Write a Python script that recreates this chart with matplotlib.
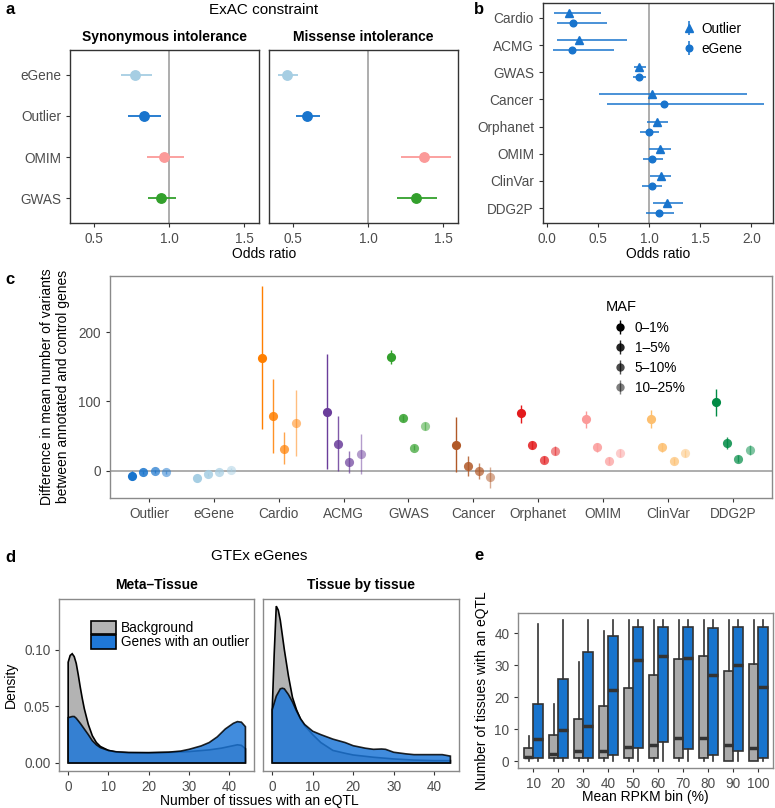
import numpy as np
import matplotlib
matplotlib.use("Agg")
import matplotlib.pyplot as plt
from matplotlib.patches import Patch

plt.rcParams['font.family'] = ['Liberation Sans', 'DejaVu Sans']

W, H = 775, 808
fig = plt.figure(figsize=(W / 100, H / 100), dpi=100)

def axpx(x0, y0, x1, y1):
    return fig.add_axes([x0 / W, 1 - y1 / H, (x1 - x0) / W, (y1 - y0) / H])

def tpx(x, y, s, **kw):
    fig.text(x / W, 1 - y / H, s, **kw)

TICKC = '#4d4d4d'
TS = 9.8

def style(ax, edge='#333333'):
    for sp in ax.spines.values():
        sp.set_color(edge)
        sp.set_linewidth(1.0)
    ax.tick_params(length=3, width=0.8, color='#333333', labelcolor=TICKC, labelsize=TS)

# ---------------- Panel a data ----------------
a_cats = ['eGene', 'Outlier', 'OMIM', 'GWAS']
a_colors = ['#a6cee3', '#1874CD', '#fb9a99', '#33a02c']
a_syn_or = [0.773, 0.833, 0.969, 0.949]
a_syn_lo = [0.678, 0.729, 0.851, 0.858]
a_syn_hi = [0.885, 0.949, 1.100, 1.049]
a_mis_or = [0.460, 0.593, 1.375, 1.320]
a_mis_lo = [0.400, 0.517, 1.220, 1.193]
a_mis_hi = [0.533, 0.677, 1.553, 1.460]
a_facets = ['Synonymous intolerance', 'Missense intolerance']

# ---------------- Panel b data ----------------
b_cats = ['Cardio', 'ACMG', 'GWAS', 'Cancer', 'Orphanet', 'OMIM', 'ClinVar', 'DDG2P']
b_out_or = [0.218, 0.313, 0.900, 1.033, 1.076, 1.109, 1.115, 1.174]
b_out_lo = [0.070, 0.098, 0.848, 0.515, 0.984, 1.000, 1.010, 1.043]
b_out_hi = [0.530, 0.783, 0.972, 1.957, 1.180, 1.213, 1.216, 1.330]
b_eg_or = [0.257, 0.245, 0.903, 1.141, 0.998, 1.033, 1.027, 1.092]
b_eg_lo = [0.098, 0.065, 0.845, 0.587, 0.913, 0.945, 0.935, 0.972]
b_eg_hi = [0.587, 0.659, 0.970, 2.126, 1.092, 1.135, 1.125, 1.239]

# ---------------- Panel c data ----------------
c_cats = ['Outlier', 'eGene', 'Cardio', 'ACMG', 'GWAS', 'Cancer', 'Orphanet', 'OMIM', 'ClinVar', 'DDG2P']
c_colors = ['#1874CD', '#a6cee3', '#ff7f00', '#6a3d9a', '#33a02c', '#b15928',
            '#e31a1c', '#fb9a99', '#fdbf6f', '#008B45']
c_maf = ['0–1%', '1–5%', '5–10%', '10–25%']
c_alpha = [1.0, 0.85, 0.7, 0.5]
c_mean = [[-7, -2.4, -1, -2.4],
          [-11, -5.2, -1.9, 1.5],
          [162.6, 78.5, 31.8, 69.3],
          [85.2, 39, 12.5, 23.6],
          [164.5, 76.5, 33.2, 64.5],
          [37.1, 6.8, -0.4, -9.6],
          [82.8, 37.1, 15.9, 28.9],
          [74.6, 33.8, 14.4, 25.5],
          [74.6, 33.8, 14.0, 25.0],
          [98.7, 40.4, 17.3, 29.9]]
c_lo = [[-13, -5, -3.5, -5],
        [-14, -7.5, -4, -0.5],
        [59.7, 25, 9.2, 21.7],
        [2.4, -1, -3.8, -4.8],
        [154.4, 72, 29.5, 59],
        [-1.4, -7.6, -11.5, -25.4],
        [69.3, 31, 11, 23],
        [62, 27, 9.5, 20],
        [62, 27.5, 9.5, 20],
        [79.4, 32, 12, 23]]
c_hi = [[-1, 0, 1.5, 0],
        [-8, -3, 0, 3.5],
        [266.5, 132.3, 55.4, 116.5],
        [168, 79.4, 28.9, 53],
        [174, 81, 37, 70],
        [77, 21.2, 10.6, 4.9],
        [94.8, 43, 21, 35],
        [86.6, 40, 19.5, 31],
        [87, 40, 18.5, 30.5],
        [117.9, 49, 22.5, 37]]

# ---------------- Panel d data ----------------
d_facets = ['Meta–Tissue', 'Tissue by tissue']
meta_bg_x = [0, 0.5, 1, 1.5, 2, 2.5, 3, 3.5, 4, 5, 6, 7, 8, 10, 12, 15, 20, 25, 30, 35, 38, 40, 42, 43, 44]
meta_bg_y = [0.089, 0.095, 0.0965, 0.094, 0.088, 0.078, 0.067, 0.057, 0.048, 0.034, 0.024, 0.018, 0.0145,
             0.011, 0.0095, 0.009, 0.009, 0.0092, 0.010, 0.0115, 0.013, 0.0145, 0.016, 0.0155, 0.0125]
meta_out_x = [0, 0.5, 1, 1.5, 2, 3, 4, 5, 6, 7, 8, 10, 12, 15, 20, 25, 28, 30, 33, 35, 37, 39, 41, 42, 43, 44]
meta_out_y = [0.040, 0.0405, 0.041, 0.041, 0.0395, 0.035, 0.030, 0.025, 0.0196, 0.016, 0.0135, 0.011,
              0.0098, 0.0092, 0.009, 0.0095, 0.0105, 0.012, 0.015, 0.018, 0.023, 0.030, 0.035, 0.0365,
              0.036, 0.032]
tis_bg_x = [0, 0.5, 1, 1.5, 2, 3, 4, 5, 6, 7, 8, 10, 12, 15, 18, 20, 25, 30, 35, 40, 44]
tis_bg_y = [0.047, 0.097, 0.1386, 0.135, 0.126, 0.100, 0.077, 0.058, 0.047, 0.0386, 0.033, 0.025, 0.018,
            0.011, 0.0085, 0.007, 0.005, 0.0035, 0.0025, 0.002, 0.002]
tis_out_x = [0, 1, 2, 2.5, 3, 4, 5, 6, 7, 8, 10, 12, 15, 18, 20, 23, 25, 27, 28, 30, 33, 35, 40, 42, 44]
tis_out_y = [0.047, 0.059, 0.0655, 0.066, 0.0655, 0.0605, 0.054, 0.046, 0.039, 0.034, 0.028, 0.025, 0.021,
             0.018, 0.0152, 0.013, 0.012, 0.0123, 0.012, 0.0094, 0.008, 0.0073, 0.0073, 0.0073, 0.006]

# ---------------- Panel e data ----------------
e_bins = ['10', '20', '30', '40', '50', '60', '70', '80', '90', '100']
e_bg_lo = [0, 0, 0, 0, 0, 0, 0, 0, 0, 0]
e_bg_q1 = [1, 1, 1, 1, 1, 1, 1, 1, 0, 0]
e_bg_med = [1.45, 2.2, 3.1, 3.1, 4.4, 5.1, 7.3, 7.2, 5.1, 4.1]
e_bg_q3 = [4.2, 8.1, 13.2, 17.1, 22.9, 26.9, 32, 33, 28.1, 30.5]
e_bg_hi = [8, 17.9, 30.9, 40.8, 44, 44, 44, 44, 44, 44]
e_out_lo = [0, 0, 0, 0, 0, 0, 0, 0, 0, 0]
e_out_q1 = [1, 1, 1, 2, 4.1, 6, 3.7, 2, 3.1, 1]
e_out_med = [7.1, 9.7, 11.1, 22.2, 31.6, 33, 32.1, 27, 30, 23.1]
e_out_q3 = [18, 25.7, 34, 39.1, 42, 42, 42, 41.5, 42, 42]
e_out_hi = [42.9, 44, 44, 44, 44, 44, 44, 44, 44, 44]

BLUE = '#1874CD'

# ================= Panel a =================
a_boxes = [(70, 50, 259, 223), (269, 50, 458, 223)]
a_data = [(a_syn_or, a_syn_lo, a_syn_hi), (a_mis_or, a_mis_lo, a_mis_hi)]
ypos_a = np.arange(len(a_cats))[::-1] + 1
for k, (box, (orv, lo, hi)) in enumerate(zip(a_boxes, a_data)):
    ax = axpx(*box)
    style(ax)
    ax.axvline(1.0, color='#a0a0a0', lw=1.2, zorder=1)
    for i, c in enumerate(a_cats):
        ax.errorbar(orv[i], ypos_a[i], xerr=[[orv[i] - lo[i]], [hi[i] - orv[i]]], fmt='o',
                    color=a_colors[i], ms=6.8, elinewidth=1.3, capsize=0, zorder=3)
    ax.set_xlim(0.34, 1.6)
    ax.set_ylim(0.4, 4.6)
    ax.set_xticks([0.5, 1.0, 1.5])
    ax.set_xticklabels(['0.5', '1.0', '1.5'])
    ax.set_yticks(ypos_a)
    if k == 0:
        ax.set_yticklabels(a_cats)
    else:
        ax.set_yticklabels([])
        ax.tick_params(axis='y', length=0)
    tpx((box[0] + box[2]) / 2, 37, a_facets[k], ha='center', va='center', fontsize=10, fontweight='bold')
tpx(264, 10, 'ExAC constraint', ha='center', va='center', fontsize=11)
tpx(264, 254, 'Odds ratio', ha='center', va='center', fontsize=10)
tpx(5, 10, 'a', ha='left', va='center', fontsize=12, fontweight='bold')

# ================= Panel b =================
ax = axpx(543, 3, 773, 223)
style(ax)
ax.axvline(1.0, color='#a0a0a0', lw=1.2, zorder=1)
yb = np.arange(len(b_cats))[::-1] + 1
off = 0.185
ax.errorbar(b_out_or, yb + off,
            xerr=[np.array(b_out_or) - np.array(b_out_lo), np.array(b_out_hi) - np.array(b_out_or)],
            fmt='^', color=BLUE, ms=5.5, elinewidth=1.1, capsize=0, zorder=3)
ax.errorbar(b_eg_or, yb - off,
            xerr=[np.array(b_eg_or) - np.array(b_eg_lo), np.array(b_eg_hi) - np.array(b_eg_or)],
            fmt='o', color=BLUE, ms=4.8, elinewidth=1.1, capsize=0, zorder=3)
lh1 = ax.errorbar([np.nan], [np.nan], yerr=[1], fmt='^', color=BLUE, ms=5.5, elinewidth=1.1, capsize=0)
lh2 = ax.errorbar([np.nan], [np.nan], yerr=[1], fmt='o', color=BLUE, ms=4.8, elinewidth=1.1, capsize=0)
ax.set_xlim(-0.036, 2.21)
ax.set_ylim(0.45, 8.55)
ax.set_xticks([0, 0.5, 1.0, 1.5, 2.0])
ax.set_xticklabels(['0.0', '0.5', '1.0', '1.5', '2.0'])
ax.set_yticks(yb)
ax.set_yticklabels(b_cats)
ax.legend([lh1, lh2], ['Outlier', 'eGene'], loc='upper right', frameon=False, fontsize=TS,
          bbox_to_anchor=(0.92, 0.97), handlelength=0.8, handletextpad=0.5, labelspacing=0.45)
tpx(658, 254, 'Odds ratio', ha='center', va='center', fontsize=10)
tpx(474, 10, 'b', ha='left', va='center', fontsize=12, fontweight='bold')

# ================= Panel c =================
ax = axpx(110, 276, 771.7, 497.7)
style(ax, edge='#8a8a8a')
ax.axhline(0, color='#a0a0a0', lw=1.2, zorder=1)
offs = [-0.2625, -0.0875, 0.0875, 0.2625]
for i, cat in enumerate(c_cats):
    for j in range(4):
        m = c_mean[i][j]
        ax.errorbar(i + 1 + offs[j], m, yerr=[[m - c_lo[i][j]], [c_hi[i][j] - m]], fmt='o',
                    color=c_colors[i], alpha=c_alpha[j], ms=6.6, elinewidth=1.0, capsize=0,
                    markeredgewidth=0, zorder=3)
handles = []
for j in range(4):
    h = ax.errorbar([np.nan], [np.nan], yerr=[1], fmt='o', color='black', alpha=c_alpha[j], ms=6,
                    elinewidth=1.0, capsize=0, markeredgewidth=0)
    handles.append(h)
ax.legend(handles, c_maf, title='MAF', loc='upper left', bbox_to_anchor=(0.731, 0.945), frameon=False,
          fontsize=TS, title_fontsize=10.5, handlelength=2.0, handletextpad=0.12, labelspacing=0.45,
          alignment='left')
ax.set_xlim(0.4, 10.6)
ax.set_ylim(-39, 281)
ax.set_xticks(np.arange(1, 11))
ax.set_xticklabels(c_cats)
ax.set_yticks([0, 100, 200])
ax.set_ylabel('Difference in mean number of variants\nbetween annotated and control genes', fontsize=10,
              labelpad=6)
tpx(5, 280, 'c', ha='left', va='center', fontsize=12, fontweight='bold')

# ================= Panel d =================
d_boxes = [(59.3, 599, 254.3, 770.7), (263.3, 599, 459.3, 770.7)]
d_data = [((meta_bg_x, meta_bg_y), (meta_out_x, meta_out_y)),
          ((tis_bg_x, tis_bg_y), (tis_out_x, tis_out_y))]
GREYF = '#b3b3b3'
BLUEF = '#1f78d8'
for k, (box, (bg, out)) in enumerate(zip(d_boxes, d_data)):
    ax = axpx(*box)
    style(ax, edge='#8a8a8a')
    bx = [bg[0][0]] + list(bg[0]) + [bg[0][-1]]
    by = [0] + list(bg[1]) + [0]
    ax.fill(bx, by, facecolor=GREYF, edgecolor='black', lw=1.2, zorder=2)
    ox = [out[0][0]] + list(out[0]) + [out[0][-1]]
    oy = [0] + list(out[1]) + [0]
    ax.fill(ox, oy, facecolor=BLUEF, edgecolor='black', lw=1.2, alpha=0.85, zorder=3)
    ax.set_xlim(-2.2, 46.2)
    ax.set_ylim(-0.0069, 0.1449)
    ax.set_xticks([0, 10, 20, 30, 40])
    ax.set_yticks([0, 0.05, 0.10])
    if k == 0:
        ax.set_yticklabels(['0.00', '0.05', '0.10'])
        ax.set_ylabel('Density', fontsize=10, labelpad=4)
        ax.legend([Patch(facecolor=GREYF, edgecolor='black', lw=1.2),
                   Patch(facecolor=BLUEF, edgecolor='black', lw=1.2)],
                  ['Background', 'Genes with an outlier'], loc='upper left',
                  bbox_to_anchor=(0.135, 0.905), frameon=False, fontsize=TS,
                  handlelength=1.85, handleheight=1.15, labelspacing=0.0, handletextpad=0.35,
                  borderaxespad=0)
    else:
        ax.set_yticklabels([])
        ax.tick_params(axis='y', length=0)
    tpx((box[0] + box[2]) / 2, 585, d_facets[k], ha='center', va='center', fontsize=10, fontweight='bold')
tpx(259, 556, 'GTEx eGenes', ha='center', va='center', fontsize=11)
tpx(259, 801, 'Number of tissues with an eQTL', ha='center', va='center', fontsize=10)
tpx(5, 558, 'd', ha='left', va='center', fontsize=12, fontweight='bold')

# ================= Panel e =================
ax = axpx(518.3, 613.3, 773.3, 768.3)
style(ax, edge='#8a8a8a')
pos = np.arange(1, 11)
def stats(lo, q1, med, q3, hi):
    return [dict(whislo=lo[i], q1=q1[i], med=med[i], q3=q3[i], whishi=hi[i], fliers=[]) for i in range(len(lo))]
common = dict(widths=0.375, patch_artist=True, showfliers=False, showcaps=False,
              medianprops=dict(color='#333333', lw=2.5, solid_capstyle='butt'),
              whiskerprops=dict(color='#333333', lw=1.2),
              manage_ticks=False)
ax.bxp(stats(e_bg_lo, e_bg_q1, e_bg_med, e_bg_q3, e_bg_hi), positions=pos - 0.1875,
       boxprops=dict(facecolor='#aaaaaa', edgecolor='#333333', lw=1.2), **common)
ax.bxp(stats(e_out_lo, e_out_q1, e_out_med, e_out_q3, e_out_hi), positions=pos + 0.1875,
       boxprops=dict(facecolor=BLUE, edgecolor='#333333', lw=1.2), **common)
ax.set_xlim(0.4, 10.6)
ax.set_ylim(-2.2, 46.2)
ax.set_xticks(pos)
ax.set_xticklabels(e_bins)
ax.set_yticks([0, 10, 20, 30, 40])
ax.set_ylabel('Number of tissues with an eQTL', fontsize=10, labelpad=4)
tpx(645, 797, 'Mean RPKM bin (%)', ha='center', va='center', fontsize=10)
tpx(474, 555, 'e', ha='left', va='center', fontsize=12, fontweight='bold')

fig.savefig('out.png', dpi=100)
